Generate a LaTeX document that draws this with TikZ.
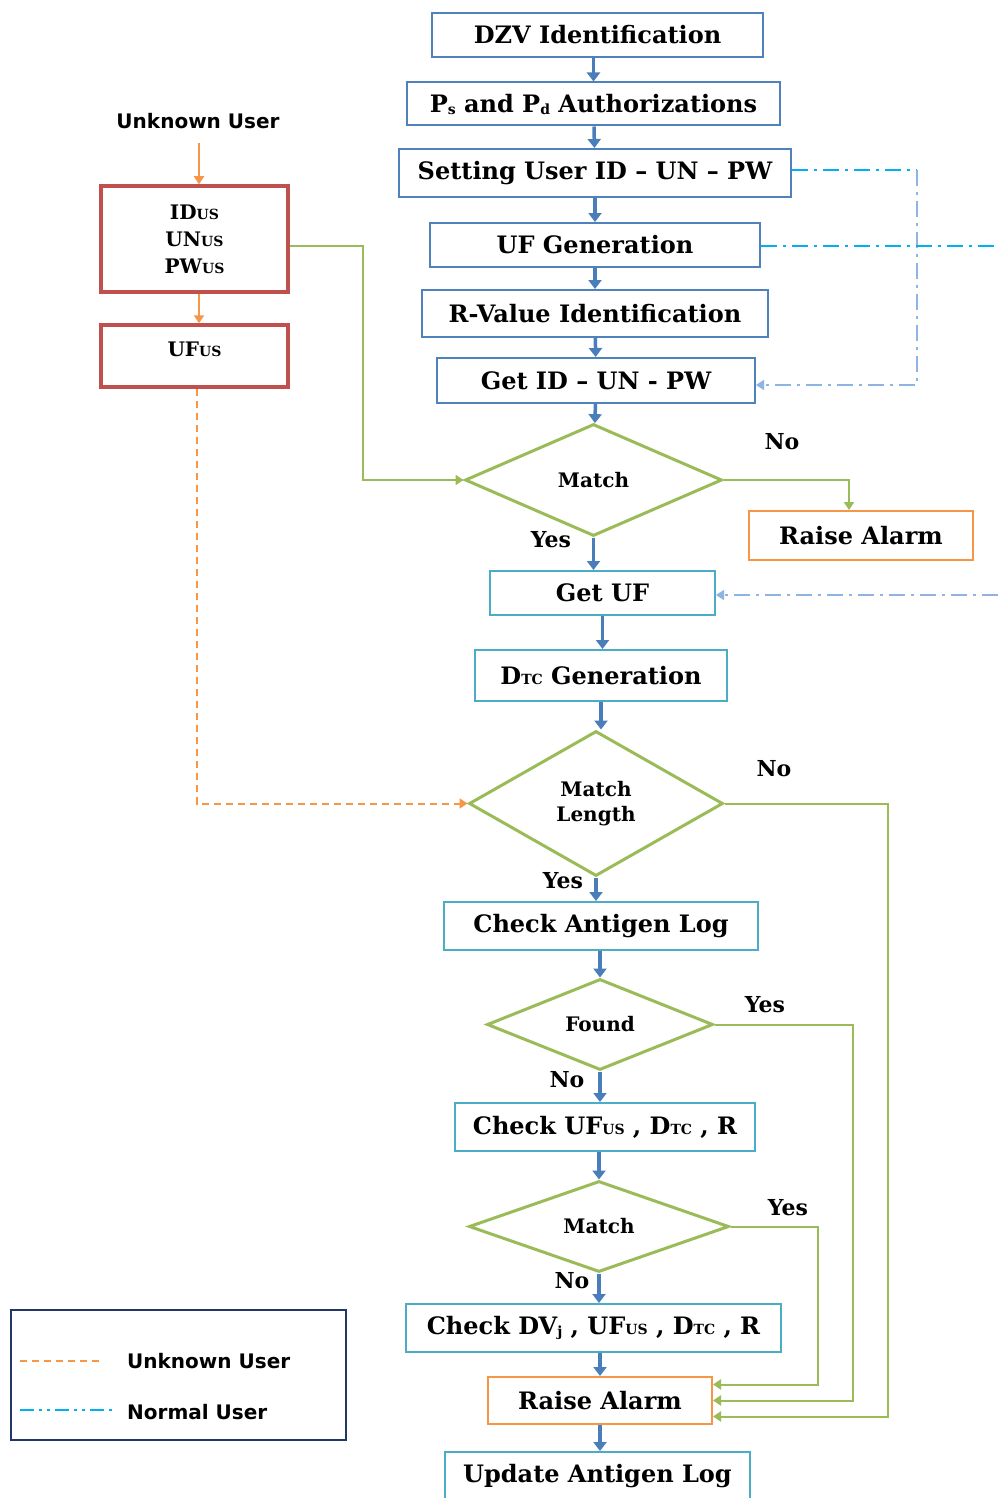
\documentclass[tikz,border=0pt]{standalone}
\usepackage{fontspec}
\setmainfont{DejaVu Serif}
\newfontfamily\lsans{DejaVu Sans}
\usetikzlibrary{shapes.geometric,arrows.meta}
\definecolor{bluebox}{HTML}{4F81BD}
\definecolor{cyanbox}{HTML}{4BACC6}
\definecolor{redbox}{HTML}{C0504D}
\definecolor{orangebox}{HTML}{F79646}
\definecolor{greenln}{HTML}{9BBB59}
\definecolor{arrowblue}{HTML}{4A7EBB}
\definecolor{normalcyan}{HTML}{00B0F0}
\definecolor{paleblue}{HTML}{8EB4E3}
\definecolor{navy}{HTML}{1F3864}
\newcommand{\smsub}[1]{{\fontsize{14}{14}\selectfont #1}}
\newcommand{\lowsub}[1]{\raisebox{-2pt}{\fontsize{14}{14}\selectfont #1}}
\begin{document}
\begin{tikzpicture}[x=1pt,y=-1pt,
  boxb/.style={draw=bluebox, line width=2pt, inner sep=0pt, font=\bfseries\fontsize{24}{28}\selectfont},
  boxc/.style={boxb, draw=cyanbox},
  boxo/.style={boxb, draw=orangebox},
  boxr/.style={draw=redbox, line width=3.5pt, inner sep=0pt, align=center, font=\bfseries\fontsize{20}{27}\selectfont},
  dec/.style={diamond, draw=greenln, line width=3pt, inner sep=0pt, align=center, font=\bfseries\fontsize{20}{25}\selectfont},
  flow/.style={arrowblue, line width=3.5pt, -{Triangle[width=13pt,length=9pt]}},
  gflow/.style={greenln, line width=2pt, -{Triangle[width=10pt,length=8pt]}},
  oflow/.style={orangebox, line width=2pt, -{Triangle[width=10pt,length=8pt]}},
  odash/.style={orangebox, line width=2pt, dash pattern=on 7pt off 5pt},
  ndash/.style={normalcyan, line width=1.6pt, dash pattern=on 16pt off 6pt on 3pt off 6pt},
  pdash/.style={paleblue, line width=1.6pt, dash pattern=on 16pt off 6pt on 3pt off 6pt},
  lab/.style={font=\bfseries\fontsize{22}{24}\selectfont, inner sep=0pt},
  slab/.style={font=\lsans\bfseries\fontsize{20}{22}\selectfont, inner sep=0pt}
]
\useasboundingbox (0,0) rectangle (998,1498);
\fill[white] (0,0) rectangle (998,1498);

% main column
\node[boxb, minimum width=331pt, minimum height=44pt] (dzv) at (597.5,35) {DZV Identification};
\node[boxb, minimum width=373pt, minimum height=43pt] (ps) at (593.5,104) {P\lowsub{s} and P\lowsub{d} Authorizations};
\node[boxb, minimum width=392pt, minimum height=48pt] (set) at (595,173) {Setting User ID -- UN -- PW};
\node[boxb, minimum width=330pt, minimum height=44pt] (ufg) at (595,245) {UF Generation};
\node[boxb, minimum width=346pt, minimum height=47pt] (rv) at (595,313.5) {R-Value Identification};
\node[boxb, minimum width=318pt, minimum height=45pt] (gid) at (596,380.5) {Get ID -- UN - PW};
\node[dec, minimum width=257pt, minimum height=112pt] (m1) at (593.5,480) {Match};
\node[boxo, minimum width=224pt, minimum height=49pt] (ra1) at (861,535.5) {Raise Alarm};
\node[boxc, minimum width=225pt, minimum height=44pt] (guf) at (602.5,593) {Get UF};
\node[boxc, minimum width=252pt, minimum height=51pt] (dtc) at (601,675.5) {D\smsub{TC} Generation};
\node[dec, minimum width=254pt, minimum height=145pt] (ml) at (596,803.5) {Match\\Length};
\node[boxc, minimum width=314pt, minimum height=48pt] (cal) at (601,926) {Check Antigen Log};
\node[dec, minimum width=226pt, minimum height=91pt] (fd) at (600,1024.5) {Found};
\node[boxc, minimum width=300pt, minimum height=48pt] (cuf) at (605,1127) {Check UF\smsub{US} , D\smsub{TC} , R};
\node[dec, minimum width=260pt, minimum height=91pt] (m2) at (599,1226.5) {Match};
\node[boxc, minimum width=375pt, minimum height=48pt] (cdv) at (593.5,1328) {Check DV\lowsub{j} , UF\smsub{US} , D\smsub{TC} , R};
\node[boxo, minimum width=224pt, minimum height=47pt] (ra2) at (600,1400.5) {Raise Alarm};
\node[boxc, minimum width=305pt, minimum height=48pt] (upd) at (597.5,1476) {Update Antigen Log};

% left column
\node[slab] (uu) at (198,121) {Unknown User};
\node[boxr, minimum width=187pt, minimum height=106pt] (idb) at (194.5,239) {ID\smsub{US}\\UN\smsub{US}\\PW\smsub{US}};
\node[boxr, minimum width=187pt, text height=31pt, text depth=31pt] (ufus) at (194.5,356) {UF\smsub{US}};

% main flow arrows
\draw[flow] (dzv.south -| ps.north) -- (ps.north);
\draw[flow] (ps) -- (set);
\draw[flow] (set) -- (ufg);
\draw[flow] (ufg) -- (rv);
\draw[flow] (rv) -- (gid);
\draw[flow] (gid) -- (m1);
\draw[flow] (m1.south) -- (m1.south |- guf.north);
\draw[flow] (guf.south) -- (guf.south |- dtc.north);
\draw[flow] (dtc.south) -- (dtc.south |- ml.north);
\draw[flow] (ml.south) -- (ml.south |- cal.north);
\draw[flow] (cal.south -| fd.north) -- (fd.north);
\draw[flow] (fd.south) -- (fd.south |- cuf.north);
\draw[flow] (cuf.south -| m2.north) -- (m2.north);
\draw[flow] (m2.south) -- (m2.south |- cdv.north);
\draw[flow] (cdv.south -| ra2.north) -- (ra2.north);
\draw[flow] (ra2.south) -- (ra2.south |- upd.north);

% left arrows
\draw[oflow] ([yshift=-14pt,xshift=4.5pt]uu.south -| idb.north) -- ([xshift=4.5pt]idb.north);
\draw[oflow] ([xshift=4.5pt]idb.south) -- ([xshift=4.5pt]ufus.north);
\draw[odash] ([xshift=2.5pt]ufus.south) |- ([xshift=-10pt]ml.west);
\draw[orangebox, -{Triangle[width=10pt,length=8pt]}, line width=2pt] ([xshift=-10pt]ml.west) -- (ml.west);
\draw[gflow] ([yshift=-7pt]idb.east) -- ++(73pt,0) |- (m1.west);

% decisions
\draw[gflow] (m1.east) -| ([xshift=-12pt]ra1.north);
\draw[gflow] (fd.east) -- ++(138pt,0) |- (ra2.east);
\draw[gflow] (ml.east) -- ++(163pt,0) |- ([yshift=-16pt]ra2.east);
\draw[gflow] (m2.east) -- ++(87pt,0) |- ([yshift=16pt]ra2.east);

% normal user lines
\coordinate (rc) at (917,170);
\coordinate (ufgend) at (998,246);
\coordinate (gufstart) at (998,595);
\draw[ndash] ([yshift=3pt]set.east) -- (rc);
\draw[pdash, -{Triangle[width=10pt,length=8pt]}] (rc) |- ([yshift=-4.5pt]gid.east);
\draw[ndash] ([yshift=-1pt]ufg.east) -- (ufgend);
\draw[pdash, -{Triangle[width=10pt,length=8pt]}] (gufstart) -- ([yshift=-2pt]guf.east);

% labels
\node[lab] (n1) at (782,442) {No};
\node[lab] (y1) at (551,540) {Yes};
\node[lab] (n2) at (774,769) {No};
\node[lab] (y2) at (563,881) {Yes};
\node[lab] (y3) at (765,1005) {Yes};
\node[lab] (n3) at (567,1080) {No};
\node[lab] (y4) at (788,1208) {Yes};
\node[lab] (n4) at (572,1281) {No};

% legend
\node[draw=navy, line width=2pt, minimum width=335pt, minimum height=130pt] (leg) at (178.5,1375) {};
\draw[odash] (20,1361) -- (102,1361);
\draw[ndash, dash pattern=on 14pt off 5pt on 3pt off 5pt on 3pt off 5pt] (20,1410) -- (112,1410);
\node[slab, anchor=west] (lu) at (127,1361) {Unknown User};
\node[slab, anchor=west] (ln) at (127,1412) {Normal User};
\end{tikzpicture}
\end{document}
